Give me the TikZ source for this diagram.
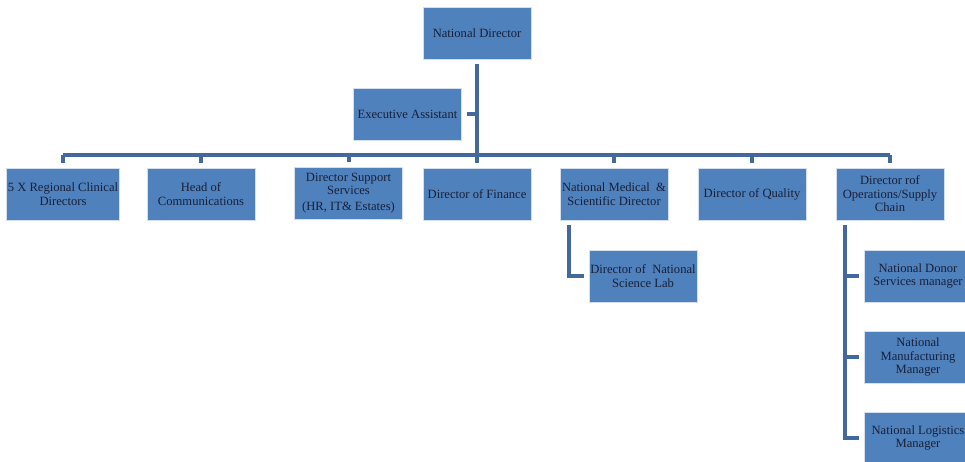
\documentclass[tikz,border=0pt]{standalone}
\usepackage{fontspec}
\setmainfont{Liberation Serif}

\definecolor{boxblue}{RGB}{79,129,189}
\definecolor{lineblue}{RGB}{66,104,158}
\definecolor{textnavy}{RGB}{24,32,56}

\tikzset{
    box/.style={fill=boxblue, draw=white!75!boxblue, line width=0.8pt,
        minimum width=108, minimum height=52, inner sep=1pt, outer sep=5pt,
        align=center, text=textnavy, font=\fontsize{12.6}{13.6}\selectfont},
    link/.style={lineblue, line width=4pt}
}

\begin{document}
\begin{tikzpicture}[x=1pt, y=-1pt]
            \useasboundingbox (0,0) rectangle (965,462);
            \clip (0,0) rectangle (965,462);

            \node[box] (nd)  at (477,33.5)  {National Director};
            \node[box] (ea)  at (407.5,114) {Executive Assistant};

            \node[box] (rcd) at (63,194)    {5 X Regional Clinical\\Directors};
            \node[box] (hoc) at (201,194)   {Head of\\Communications};
            \node[box] (dss) at (348.5,193) {Director Support\\Services\\[2pt](HR, IT\& Estates)};
            \node[box] (dof) at (477,194)   {Director of Finance};
            \node[box] (nms) at (614,194)   {National Medical \ \&\\Scientific Director};
            \node[box] (doq) at (752,194)   {Director of Quality};
            \node[box] (dos) at (890,194)   {Director rof\\Operations/Supply\\Chain};

            \node[box] (nsl) at (643,276)   {Director of \ National\\Science Lab};
            \node[box] (nds) at (918,276)   {National Donor\\Services manager};
            \node[box] (nmm) at (918,357)   {National\\Manufacturing\\Manager};
            \node[box] (nlm) at (918,438)   {National Logistics\\Manager};

            \coordinate (busL) at (63,155);
            \coordinate (busR) at (890,155);
            \coordinate (medV) at (569,0);
            \coordinate (opsV) at (845,0);

            \draw[link] (nd.south) -- (nd.south |- busL);
            \draw[link] (ea.east) -- (ea.east -| nd.south);
            \draw[link] (busL) -- (busR);
            \foreach \n in {rcd,hoc,dss,dof,nms,doq,dos}
                \draw[link] (\n.north |- busL) -- (\n.north);

            \draw[link] (medV |- nms.south) -- (medV |- nsl.west) -- (nsl.west);
            \draw[link] (opsV |- dos.south) -- (opsV |- nlm.west) -- (nlm.west);
            \draw[link] (opsV |- nds.west) -- (nds.west);
            \draw[link] (opsV |- nmm.west) -- (nmm.west);
        \end{tikzpicture}
\end{document}
